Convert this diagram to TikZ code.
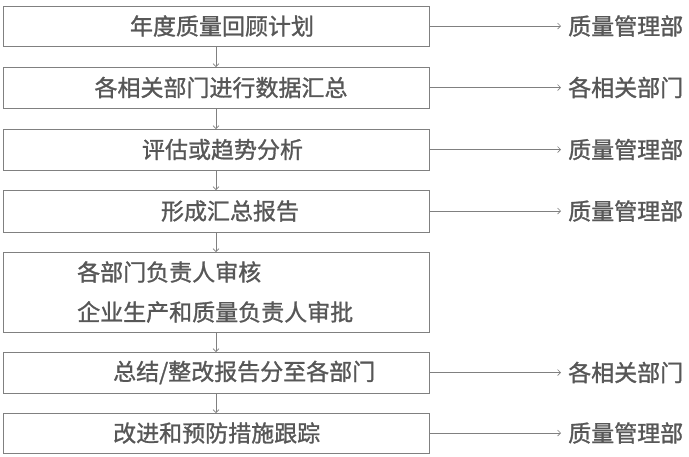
\documentclass[tikz,border=0pt]{standalone}
\usepackage{fontspec}
\setmainfont{Noto Sans CJK SC}[FakeBold=1.2]
\usetikzlibrary{positioning,arrows.meta}
\definecolor{boxgray}{HTML}{808080}
\definecolor{textgray}{HTML}{575757}

\begin{document}
\begin{tikzpicture}[x=1pt,y=-1pt,node distance=20pt,
  stepbox/.style={rectangle,draw=boxgray,line width=0.9pt,minimum width=426pt,minimum height=41pt,inner sep=0pt,outer sep=0pt},
  steptext/.style={text=textgray,font=\fontsize{23}{40}\selectfont,inner sep=0pt},
  dept/.style={text=textgray,font=\fontsize{23}{28}\selectfont,inner xsep=7pt,inner ysep=0pt},
  flow/.style={-{Straight Barb[length=3pt,width=6pt]},boxgray,line width=0.7pt}]
\useasboundingbox (0,0) rectangle (689,456);

\node[stepbox,minimum height=40pt] (b1) at (216,26) {};
\node[stepbox,below=21pt of b1] (b2) {};
\node[stepbox,below=21pt of b2] (b3) {};
\node[stepbox,minimum height=42pt,below=of b3] (b4) {};
\node[stepbox,minimum height=80pt,below=of b4] (b5) {};
\node[stepbox,below=of b5] (b6) {};
\node[stepbox,minimum height=40pt,below=of b6] (b7) {};

\node[steptext] (t1) at ([xshift=6pt]b1.center) {年度质量回顾计划};
\node[steptext] (t2) at ([xshift=5pt]b2.center) {各相关部门进行数据汇总};
\node[steptext] (t3) at ([xshift=6.5pt]b3.center) {评估或趋势分析};
\node[steptext] (t4) at ([xshift=14pt]b4.center) {形成汇总报告};
\node[steptext,anchor=west,align=left] (t5) at ([xshift=74pt]b5.west) {各部门负责人审核\\企业生产和质量负责人审批};
\node[steptext,anchor=west] (t6) at ([xshift=110pt]b6.west) {总结/整改报告分至各部门};
\node[steptext,anchor=west] (t7) at ([xshift=110pt]b7.west) {改进和预防措施跟踪};

\node[dept,right=132pt of b1] (d1) {质量管理部};
\node[dept,right=132pt of b2] (d2) {各相关部门};
\node[dept,right=132pt of b3] (d3) {质量管理部};
\node[dept,right=132pt of b4] (d4) {质量管理部};
\node[dept,right=132pt of b6] (d6) {各相关部门};
\node[dept,right=132pt of b7] (d7) {质量管理部};

\draw[flow] (b1) -- (b2);
\draw[flow] (b2) -- (b3);
\draw[flow] (b3) -- (b4);
\draw[flow] (b4) -- (b5);
\draw[flow] (b5) -- (b6);
\draw[flow] (b6) -- (b7);

\draw[flow] (b1) -- (d1);
\draw[flow] (b2) -- (d2);
\draw[flow] (b3) -- (d3);
\draw[flow] (b4) -- (d4);
\draw[flow] (b6) -- (d6);
\draw[flow] (b7) -- (d7);

\end{tikzpicture}
\end{document}
